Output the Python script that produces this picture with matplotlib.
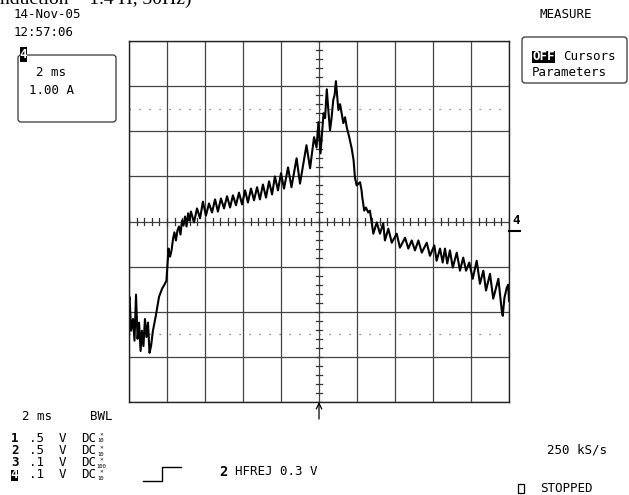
import matplotlib
matplotlib.use("Agg")
import matplotlib.pyplot as plt
from matplotlib.patches import FancyBboxPatch, Rectangle

W, H = 629, 495

# channel 4 trace: time in ms (2 ms/div), current in A (1 A/div)
t_ms = [-10.0, -9.97, -9.89, -9.79, -9.71, -9.63, -9.55, -9.47, -9.39, -9.32,
        -9.24, -9.16, -9.08, -9.00, -8.92, -8.84, -8.74, -8.58, -8.42, -8.26,
        -8.11, -8.03, -7.97, -7.92, -7.84, -7.76, -7.68, -7.61, -7.53, -7.45,
        -7.37, -7.29, -7.21, -7.13, -7.05, -6.97, -6.89, -6.82,
        -6.74, -6.58, -6.42, -6.26, -6.11, -5.95, -5.79, -5.63, -5.47, -5.32,
        -5.16, -5.00, -4.84, -4.68, -4.53, -4.37, -4.21, -4.05, -3.89, -3.74,
        -3.58, -3.42, -3.26, -3.11, -2.95, -2.79, -2.63, -2.47, -2.32, -2.16,
        -2.00, -1.84, -1.63, -1.45, -1.18, -1.00, -0.66, -0.47, -0.26, -0.13,
        -0.03, 0.08, 0.24, 0.32, 0.41, 0.50, 0.58, 0.66, 0.75, 0.82,
        0.89, 1.02, 1.11, 1.19, 1.28, 1.37, 1.47, 1.58, 1.72, 1.82,
        1.89, 1.98, 2.08, 2.16, 2.24, 2.28, 2.38, 2.47, 2.59, 2.68,
        2.77, 2.86, 3.04, 3.21, 3.38, 3.47, 3.65, 3.83, 4.09, 4.26,
        4.53, 4.70, 4.88, 5.05, 5.23, 5.41, 5.67, 5.84, 6.07, 6.19,
        6.37, 6.51, 6.63, 6.75, 6.89, 7.04, 7.25, 7.42, 7.59, 7.74,
        7.91, 8.09, 8.30, 8.47, 8.65, 8.79, 9.00, 9.17, 9.44, 9.62,
        9.67, 9.76, 9.88, 9.96, 10.0]
i_amp = [-1.76, -1.67, -2.42, -2.16, -2.64, -1.62, -2.60, -2.24, -2.87, -2.42,
         -2.76, -2.16, -2.56, -2.24, -2.91, -2.76, -2.42, -2.07, -1.67, -1.49,
         -1.38, -1.31, -0.91, -0.60, -0.78, -0.64, -0.38, -0.24, -0.42, -0.20,
         -0.11, -0.29, 0.02, -0.09, 0.11, -0.11, 0.18, 0.02,
         0.22, -0.02, 0.29, 0.07, 0.44, 0.13, 0.40, 0.20, 0.49, 0.22,
         0.51, 0.29, 0.56, 0.31, 0.58, 0.36, 0.64, 0.38, 0.69, 0.42,
         0.73, 0.47, 0.76, 0.49, 0.82, 0.53, 0.89, 0.60, 1.00, 0.69,
         1.07, 0.73, 1.20, 0.76, 1.40, 0.84, 1.69, 1.18, 1.87, 1.64,
         2.20, 1.51, 2.40, 2.29, 2.93, 2.42, 2.02, 2.29, 2.69, 2.80,
         3.11, 2.47, 2.60, 2.40, 2.18, 2.31, 2.07, 1.89, 1.62, 1.36,
         0.98, 0.80, 0.84, 0.87, 0.69, 0.53, 0.24, 0.31, 0.20, 0.24,
         -0.02, -0.27, -0.02, -0.27, -0.04, -0.42, -0.16, -0.47, -0.27, -0.58,
         -0.36, -0.60, -0.42, -0.64, -0.42, -0.69, -0.47, -0.76, -0.53, -0.87,
         -0.60, -0.91, -0.60, -0.93, -0.64, -1.02, -0.69, -1.09, -0.80, -1.09,
         -0.91, -1.27, -0.87, -1.38, -1.09, -1.53, -1.16, -1.71, -1.27, -1.98,
         -2.09, -1.69, -1.47, -1.40, -1.76]

ms_per_div = 2
amp_per_div = 1.0
n_xdiv, n_ydiv = 10, 8

date_text = "14-Nov-05"
time_text = "12:57:06"
title_text = "nduction = 1.4 H, 30Hz)"
chan_rows = [("1", ".5", "10"), ("2", ".5", "10"), ("3", ".1", "100"), ("4", ".1", "10")]

mono = "DejaVu Sans Mono"
fs = 9

fig = plt.figure(figsize=(W / 100, H / 100), dpi=100)
fig.patch.set_facecolor("white")

# scope screen
ax = fig.add_axes([129 / W, 1 - 402 / H, 380 / W, 361 / H])
xmax = n_xdiv / 2 * ms_per_div
ymax = n_ydiv / 2 * amp_per_div
ax.set_xlim(-xmax, xmax)
ax.set_ylim(-ymax, ymax)
ax.set_xticks([k * ms_per_div for k in range(-5, 6)])
ax.set_yticks([k * amp_per_div for k in range(-4, 5)])
ax.grid(True, color="#444444", lw=0.9)
ax.tick_params(length=0, labelbottom=False, labelleft=False)
for s in ax.spines.values():
    s.set_color("#222222")
    s.set_linewidth(1.0)

# dotted reference lines
for yv in (2.5, -2.5):
    ax.axhline(yv, color="#666666", lw=0.9, ls=(0, (1, 7)))

# small ticks on the centre axes
tx = 3 / 45 * amp_per_div
ty = 3 / 38 * ms_per_div
for k in range(-25, 26):
    xv = k * ms_per_div / 5
    ax.plot([xv, xv], [-tx, tx], color="#333333", lw=0.9)
for k in range(-20, 21):
    yv = k * amp_per_div / 5
    ax.plot([-ty, ty], [yv, yv], color="#333333", lw=0.9)

ax.plot(t_ms, i_amp, color="black", lw=1.5)

# overlay in pixel coordinates for the screen annotations
ov = fig.add_axes([0, 0, 1, 1])
ov.set_xlim(0, W)
ov.set_ylim(H, 0)
ov.axis("off")

ov.text(0, 4, title_text, family="Liberation Serif", fontsize=14, va="baseline", ha="left")
ov.text(14, 15, date_text, family=mono, fontsize=fs, va="center")
ov.text(14, 32, time_text, family=mono, fontsize=fs, va="center")

# trace info box
ov.add_patch(FancyBboxPatch((18, 55), 98, 67, boxstyle="round,pad=0,rounding_size=3",
                            fc="none", ec="#333333", lw=0.9))
ov.add_patch(Rectangle((20, 47), 7, 15, fc="black", ec="none"))
ov.text(23.5, 54.5, "4", family=mono, fontsize=fs, fontweight="bold", color="white",
        ha="center", va="center")
ov.text(36, 72, "2 ms", family=mono, fontsize=fs, va="center")
ov.text(29, 90, "1.00 A", family=mono, fontsize=fs, va="center")

# measure menu
ov.text(540, 15, "MEASURE", family=mono, fontsize=fs, va="center")
ov.add_patch(FancyBboxPatch((522, 37), 105, 46, boxstyle="round,pad=0,rounding_size=3",
                            fc="none", ec="#333333", lw=0.9))
ov.add_patch(Rectangle((532, 51), 23, 12, fc="black", ec="none"))
ov.text(543.5, 57, "OFF", family=mono, fontsize=fs, fontweight="bold", color="white",
        ha="center", va="center")
ov.text(563, 57, "Cursors", family=mono, fontsize=fs, va="center")
ov.text(532, 72, "Parameters", family=mono, fontsize=fs, va="center")

# channel 4 ground marker on the right
ov.text(516, 221, "4", family=mono, fontsize=fs, fontweight="bold", ha="center", va="center")
ov.plot([509, 520], [230.5, 230.5], color="black", lw=1.5)

# trigger position arrow
ov.annotate("", xy=(319, 402), xytext=(319, 419),
            arrowprops=dict(arrowstyle="->", lw=0.9, color="black", shrinkA=0, shrinkB=0))

# bottom status area
ov.text(22, 416, "2 ms", family=mono, fontsize=fs, va="center")
ov.text(90, 416, "BWL", family=mono, fontsize=fs, va="center")
row_y = [438, 451, 463, 475]
for (num, vdiv, probe), yy in zip(chan_rows, row_y):
    if num == "4":
        ov.add_patch(Rectangle((11, yy - 5.5), 7, 11, fc="black", ec="none"))
        ov.text(14.5, yy, num, family=mono, fontsize=fs, fontweight="bold",
                color="white", ha="center", va="center")
    else:
        ov.text(14.5, yy, num, family=mono, fontsize=fs, fontweight="bold",
                ha="center", va="center")
    ov.text(29, yy, vdiv, family=mono, fontsize=fs, va="center")
    ov.text(59, yy, "V", family=mono, fontsize=fs, va="center")
    ov.text(81, yy, "DC", family=mono, fontsize=fs, va="center")
    ov.text(101, yy - 3.5, "\u00d7", family=mono, fontsize=4.5, ha="center", va="center")
    ov.text(101, yy + 3, probe, family=mono, fontsize=4, ha="center", va="center")

# trigger slope symbol
ov.plot([143, 162, 162, 181], [480.5, 480.5, 466.5, 466.5], color="black", lw=1.0)
ov.text(223.5, 471.5, "2", family=mono, fontsize=fs + 1, fontweight="bold",
        ha="center", va="center")
ov.text(235, 471.5, "HFREJ 0.3 V", family=mono, fontsize=fs, va="center")

ov.text(547, 450, "250 kS/s", family=mono, fontsize=fs, va="center")
ov.add_patch(Rectangle((518, 484), 6, 9, fc="none", ec="black", lw=0.9))
ov.text(540, 489, "STOPPED", family=mono, fontsize=fs, va="center")

fig.savefig("out.png", dpi=100)
